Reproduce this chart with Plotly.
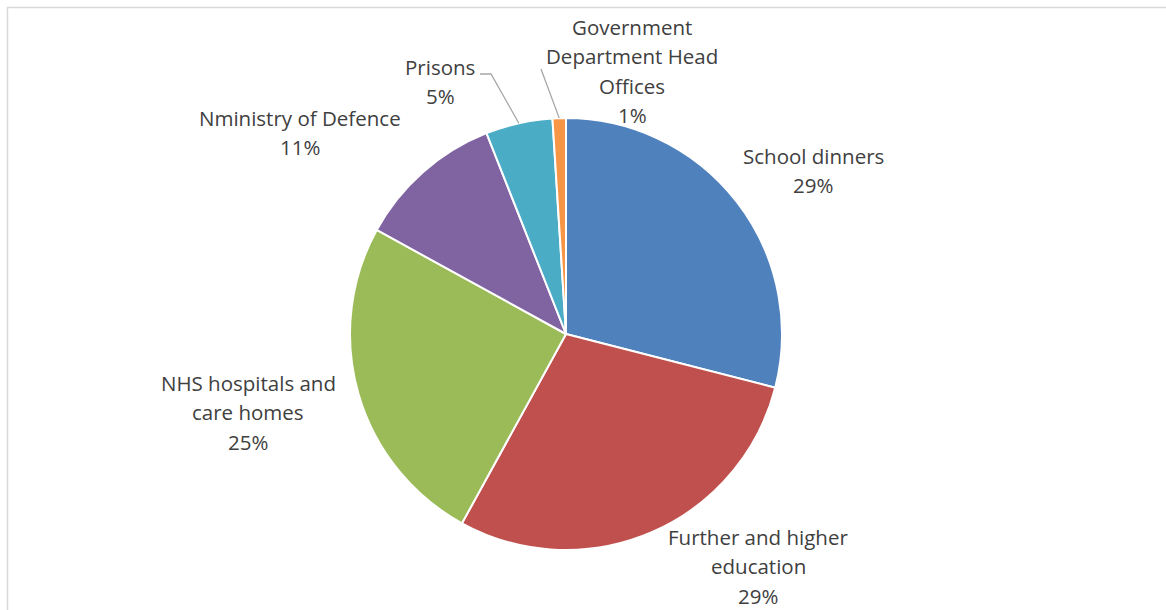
import math
import plotly.graph_objects as go

# Share of public sector food spend by sector
categories = [
    "School dinners",
    "Further and higher education",
    "NHS hospitals and care homes",
    "Nministry of Defence",
    "Prisons",
    "Government Department Head Offices",
]
shares = [29, 29, 25, 11, 5, 1]

colors = ["#4F81BD", "#C0504D", "#9BBB59", "#8064A2", "#4BACC6", "#F79646"]

W, H = 1166, 610
CX, CY, R = 566, 334, 216  # pie centre and radius in pixels
LINE_H = 29.3               # label line spacing in pixels

# label text as wrapped lines, plus the centre (pixels) of each label's first line
label_lines = [
    ["School dinners"],
    ["Further and higher", "education"],
    ["NHS hospitals and", "care homes"],
    ["Nministry of Defence"],
    ["Prisons"],
    ["Government", "Department Head", "Offices"],
]
label_pos = [(813, 156), (758, 537), (248, 383), (300, 118), (440, 67), (632, 27)]
leader = {4: (480, 74, 491, 74), 5: (541, 69, 541, 69)}


def px(x):
    return x / W


def py(y):
    return 1 - y / H


fig = go.Figure(
    go.Pie(
        values=shares,
        labels=categories,
        sort=False,
        direction="clockwise",
        rotation=0,
        textinfo="none",
        hoverinfo="skip",
        marker=dict(colors=colors, line=dict(color="white", width=2)),
        domain=dict(x=[px(CX - R), px(CX + R)], y=[py(CY + R), py(CY - R)]),
        showlegend=False,
    )
)

total = sum(shares)
font = dict(family="Open Sans, sans-serif", size=20.5, color="#404040")
annotations = []
shapes = []
cum = 0
for i, v in enumerate(shares):
    pct = round(100 * v / total)
    lines = label_lines[i] + [f"{pct}%"]
    lx, ly = label_pos[i]
    for k, line in enumerate(lines):
        annotations.append(
            dict(
                x=px(lx), y=py(ly + k * LINE_H), xref="paper", yref="paper",
                text=line, showarrow=False, font=font, borderpad=0,
                xanchor="center", yanchor="middle",
            )
        )
    mid = 2 * math.pi * (cum + v / 2) / total
    cum += v
    if i in leader:
        sx, sy, kx, ky = leader[i]
        ex = CX + R * math.sin(mid)
        ey = CY - R * math.cos(mid)
        path = f"M {px(sx)},{py(sy)} L {px(kx)},{py(ky)} L {px(ex)},{py(ey)}"
        shapes.append(
            dict(type="path", xref="paper", yref="paper", path=path,
                 line=dict(color="#A6A6A6", width=1.3))
        )

# chart frame
shapes.append(
    dict(type="rect", xref="paper", yref="paper",
         x0=px(7.5), x1=1.05, y0=-0.05, y1=py(7.5),
         line=dict(color="#D9D9D9", width=1.5), fillcolor="rgba(0,0,0,0)")
)

fig.update_layout(
    width=W, height=H,
    margin=dict(l=0, r=0, t=0, b=0),
    paper_bgcolor="white",
    plot_bgcolor="white",
    annotations=annotations,
    shapes=shapes,
)

fig.write_html("out.html")
